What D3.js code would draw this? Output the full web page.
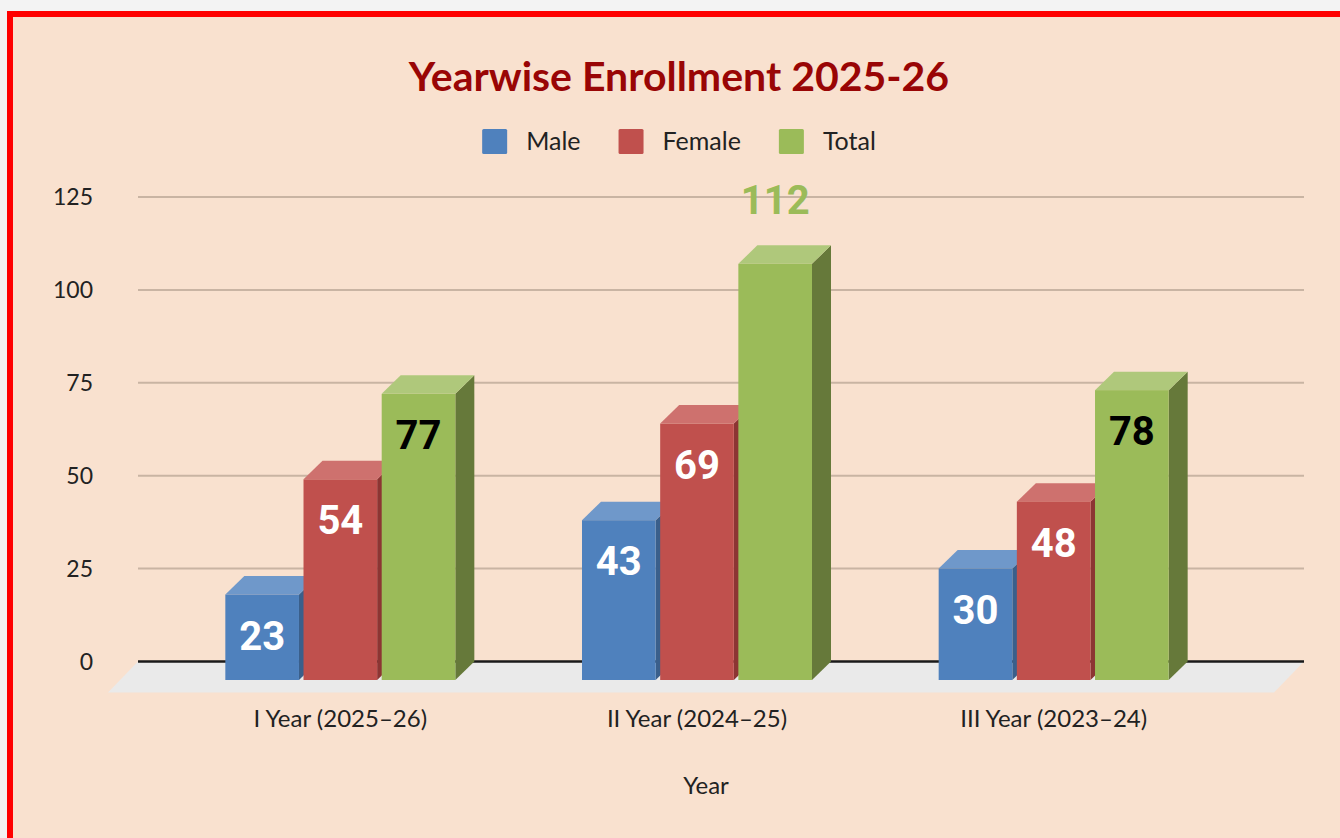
<!DOCTYPE html>
<html>
<head>
<meta charset="utf-8">
<script src="https://cdn.jsdelivr.net/npm/d3@7"></script>
<style>
  body { margin: 0; background: #f3f3f3; }
  svg { display: block; }
  text { font-family: Lato, "Open Sans", sans-serif; }
</style>
</head>
<body>
<script>
/*--- datos ---*/
let categories = ["I Year (2025–26)", "II Year (2024–25)", "III Year (2023–24)"];
let seriesNames = ["Male", "Female", "Total"];
let male = [23, 43, 30];
let female = [54, 69, 48];
let total = [77, 112, 78];
let yTicks = [0, 25, 50, 75, 100, 125];

/*--- variables ---*/
let width = 1340;
let height = 838;
let plotLeft = 138, plotRight = 1304;
let dx = 19, dy = 18.5;        // profundidad de las barras
let floorDepth = 31;           // profundidad del piso
let centerX = 679;

let colores = {
    Male:   {front: "#4f81bd", top: "#6f98ca", side: "#3a5f8b", label: "#ffffff"},
    Female: {front: "#c0504d", top: "#ce716e", side: "#8c3533", label: "#ffffff"},
    Total:  {front: "#9bbb59", top: "#afc87b", side: "#66793a", label: "#000000"}
};

let valores = {Male: male, Female: female, Total: total};

/*--- escalas ---*/
let Y = d3.scaleLinear().domain([0, 125]).range([661.5, 197]);
let X0 = d3.scaleBand().domain(categories).range([162, 1232]);
let groupW = 230;
let X1 = d3.scaleBand().domain(seriesNames).range([0, groupW]).paddingInner(0.058);

let svg = d3.select("body").append("svg")
    .attr("width", width)
    .attr("height", height);

// marco rojo y fondo
svg.append("rect").attr("x", 7).attr("y", 11).attr("width", width).attr("height", height)
    .attr("fill", "#ff0000");
svg.append("rect").attr("x", 13).attr("y", 17).attr("width", width).attr("height", height)
    .attr("fill", "#f9e1cf");

// titulo
svg.append("text")
    .attr("x", centerX).attr("y", 91)
    .attr("text-anchor", "middle")
    .attr("font-size", 41).attr("font-weight", 700)
    .attr("fill", "#990505")
    .text("Yearwise Enrollment 2025-26");

/*--- leyenda ---*/
let legend = svg.append("g");
let lx = 0;
seriesNames.forEach(function(s) {
    let g = legend.append("g").attr("transform", "translate(" + lx + ",0)");
    g.append("rect").attr("x", 0).attr("y", 129).attr("width", 25).attr("height", 25)
        .attr("rx", 1.5).attr("fill", colores[s].front);
    let t = g.append("text").attr("x", 44).attr("y", 150)
        .attr("font-size", 25).attr("fill", "#222").text(s);
    lx += 44 + t.node().getComputedTextLength() + 38;
});
let legendW = lx - 38;
legend.attr("transform", "translate(" + (centerX - legendW / 2) + ",0)");

/*--- grilla y eje Y ---*/
svg.append("g").selectAll("line")
    .data(yTicks.filter(function(d) { return d > 0; }))
    .join("line")
    .attr("x1", plotLeft).attr("x2", plotRight)
    .attr("y1", function(d) { return Y(d); })
    .attr("y2", function(d) { return Y(d); })
    .attr("stroke", "#c9b4a3").attr("stroke-width", 2);

svg.append("g").selectAll("text")
    .data(yTicks)
    .join("text")
    .attr("x", 93)
    .attr("y", function(d) { return Y(d) + 8; })
    .attr("text-anchor", "end")
    .attr("font-size", 23).attr("fill", "#222")
    .text(function(d) { return d; });

// piso
let y0 = Y(0);
svg.append("path")
    .attr("d", "M" + plotLeft + "," + y0 + "L" + plotRight + "," + y0 +
        "L" + (plotRight - floorDepth + 1) + "," + (y0 + floorDepth) +
        "L" + (plotLeft - floorDepth + 1) + "," + (y0 + floorDepth) + "Z")
    .attr("fill", "#eaeaea");

svg.append("line")
    .attr("x1", plotLeft).attr("x2", plotRight)
    .attr("y1", y0).attr("y2", y0)
    .attr("stroke", "#1a1a1a").attr("stroke-width", 2.5);

/*--- barras 3D ---*/
let offset = (X0.bandwidth() - groupW) / 2;
let bw = X1.bandwidth();
let etiquetas = [];

categories.forEach(function(c, i) {
    seriesNames.forEach(function(s) {
        let v = valores[s][i];
        let fx = X0(c) + offset + X1(s);
        let ft = Y(v) + dy;
        let fb = Y(0) + dy;
        let g = svg.append("g");
        // lado
        g.append("path")
            .attr("d", "M" + (fx + bw) + "," + ft + "L" + (fx + bw + dx) + "," + (ft - dy) +
                "L" + (fx + bw + dx) + "," + (fb - dy) + "L" + (fx + bw) + "," + fb + "Z")
            .attr("fill", colores[s].side);
        // tapa
        g.append("path")
            .attr("d", "M" + fx + "," + ft + "L" + (fx + dx) + "," + (ft - dy) +
                "L" + (fx + bw + dx) + "," + (ft - dy) + "L" + (fx + bw) + "," + ft + "Z")
            .attr("fill", colores[s].top);
        // frente
        g.append("rect")
            .attr("x", fx).attr("y", ft)
            .attr("width", bw).attr("height", fb - ft)
            .attr("fill", colores[s].front);

        // etiqueta: fuera si supera 100
        if (v > 100) {
            etiquetas.push({x: fx + bw / 2, y: ft - 50, t: v, c: colores[s].front});
        } else {
            etiquetas.push({x: fx + bw / 2, y: ft + 55, t: v, c: colores[s].label});
        }
    });
});

svg.append("g").selectAll("text")
    .data(etiquetas)
    .join("text")
    .attr("x", function(d) { return d.x; })
    .attr("y", function(d) { return d.y; })
    .attr("text-anchor", "middle")
    .style("font-family", "Roboto, sans-serif")
    .attr("font-size", 40).attr("font-weight", 700)
    .attr("fill", function(d) { return d.c; })
    .text(function(d) { return d.t; });

/*--- eje X ---*/
svg.append("g").selectAll("text")
    .data(categories)
    .join("text")
    .attr("x", function(d) { return X0(d) + X0.bandwidth() / 2; })
    .attr("y", 727)
    .attr("text-anchor", "middle")
    .attr("font-size", 24).attr("fill", "#222")
    .text(function(d) { return d; });

svg.append("text")
    .attr("x", 706).attr("y", 794)
    .attr("text-anchor", "middle")
    .attr("font-size", 24).attr("fill", "#222")
    .text("Year");
</script>
</body>
</html>
